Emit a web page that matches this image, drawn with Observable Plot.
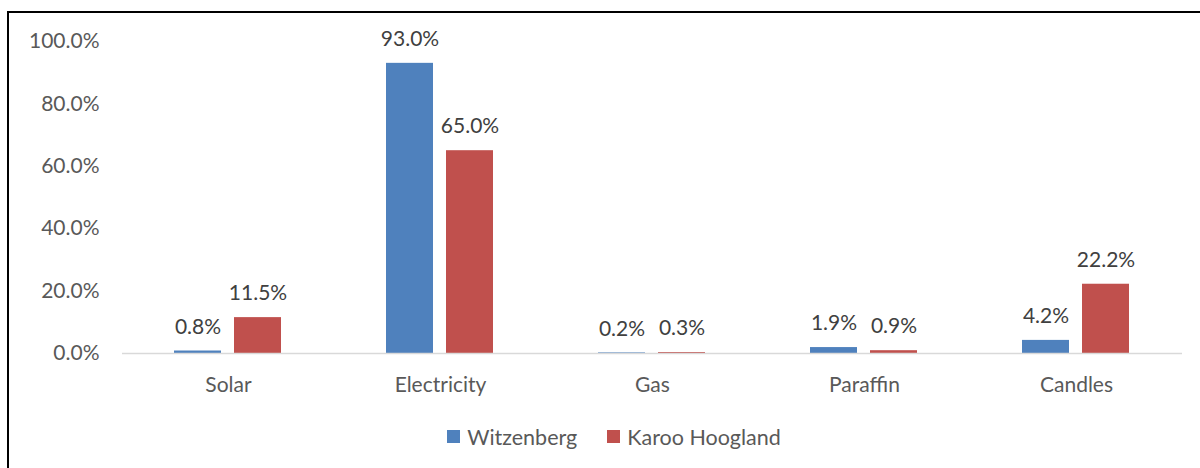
<!DOCTYPE html>
<html>
<head>
<meta charset="utf-8">
<script src="https://cdn.jsdelivr.net/npm/d3@7"></script>
<script src="https://cdn.jsdelivr.net/npm/@observablehq/plot@0.6"></script>
<style>
  html, body { margin: 0; padding: 0; background: #fff; }
  body { width: 1200px; height: 468px; overflow: hidden; position: relative; font-family: Lato, "Open Sans", sans-serif; }
  #frame { position: absolute; left: 7px; top: 11px; width: 1210px; height: 470px; border-left: 2px solid #000; border-top: 2px solid #000; pointer-events: none; }
  #chart svg { display: block; }
  #legend { display: flex; justify-content: center; margin-top: 10px; padding-left: 58px; }
  .lg-swatches { font-size: 21.5px !important; color: #595959 !important; font-family: Lato, "Open Sans", sans-serif !important; margin: 0 !important; }
  .lg-swatch { margin-right: 30px !important; }
  .lg-swatch > svg { margin-right: 7px !important; }
</style>
</head>
<body>
<div id="chart"></div>
<div id="legend"></div>
<div id="frame"></div>
<script>
const categories = ["Solar", "Electricity", "Gas", "Paraffin", "Candles"];
const series = ["Witzenberg", "Karoo Hoogland"];
const witzenberg = [0.8, 93.0, 0.2, 1.9, 4.2];
const karooHoogland = [11.5, 65.0, 0.3, 0.9, 22.2];
const colors = ["#4F81BD", "#C0504D"];
const yTicks = [0, 20, 40, 60, 80, 100];

const data = [];
categories.forEach((c, i) => {
  data.push({category: c, series: series[0], value: witzenberg[i]});
  data.push({category: c, series: series[1], value: karooHoogland[i]});
});

const fmt = d => d.toFixed(1) + "%";

const chart = Plot.plot({
  width: 1200,
  height: 410,
  marginLeft: 120,
  marginRight: 17,
  marginTop: 41,
  marginBottom: 57,
  style: {fontFamily: "Lato, 'Open Sans', sans-serif", fontSize: "21px", color: "#595959", background: "transparent"},
  fx: {domain: categories, paddingInner: 0, paddingOuter: 0, label: null, tickSize: 0, tickPadding: 24, axis: "bottom"},
  x: {domain: series, paddingInner: 0.21, paddingOuter: 0.855, axis: null},
  y: {domain: [0, 100], ticks: yTicks, tickFormat: fmt, label: null, tickSize: 0, tickPadding: 23},
  color: {domain: series, range: colors},
  marks: [
    Plot.barY(data, {fx: "category", x: "series", y: "value", fill: "series"}),
    Plot.ruleY([0], {stroke: "#d9d9d9", strokeWidth: 1.5}),
    Plot.text(data, {fx: "category", x: "series", y: "value", text: d => fmt(d.value), dy: -24, fill: "#404040", fontSize: 21})
  ]
});
document.getElementById("chart").appendChild(chart);

const legend = Plot.legend({
  color: {domain: series, range: colors, type: "ordinal"},
  swatchSize: 13,
  className: "lg"
});
document.getElementById("legend").appendChild(legend);
</script>
</body>
</html>
